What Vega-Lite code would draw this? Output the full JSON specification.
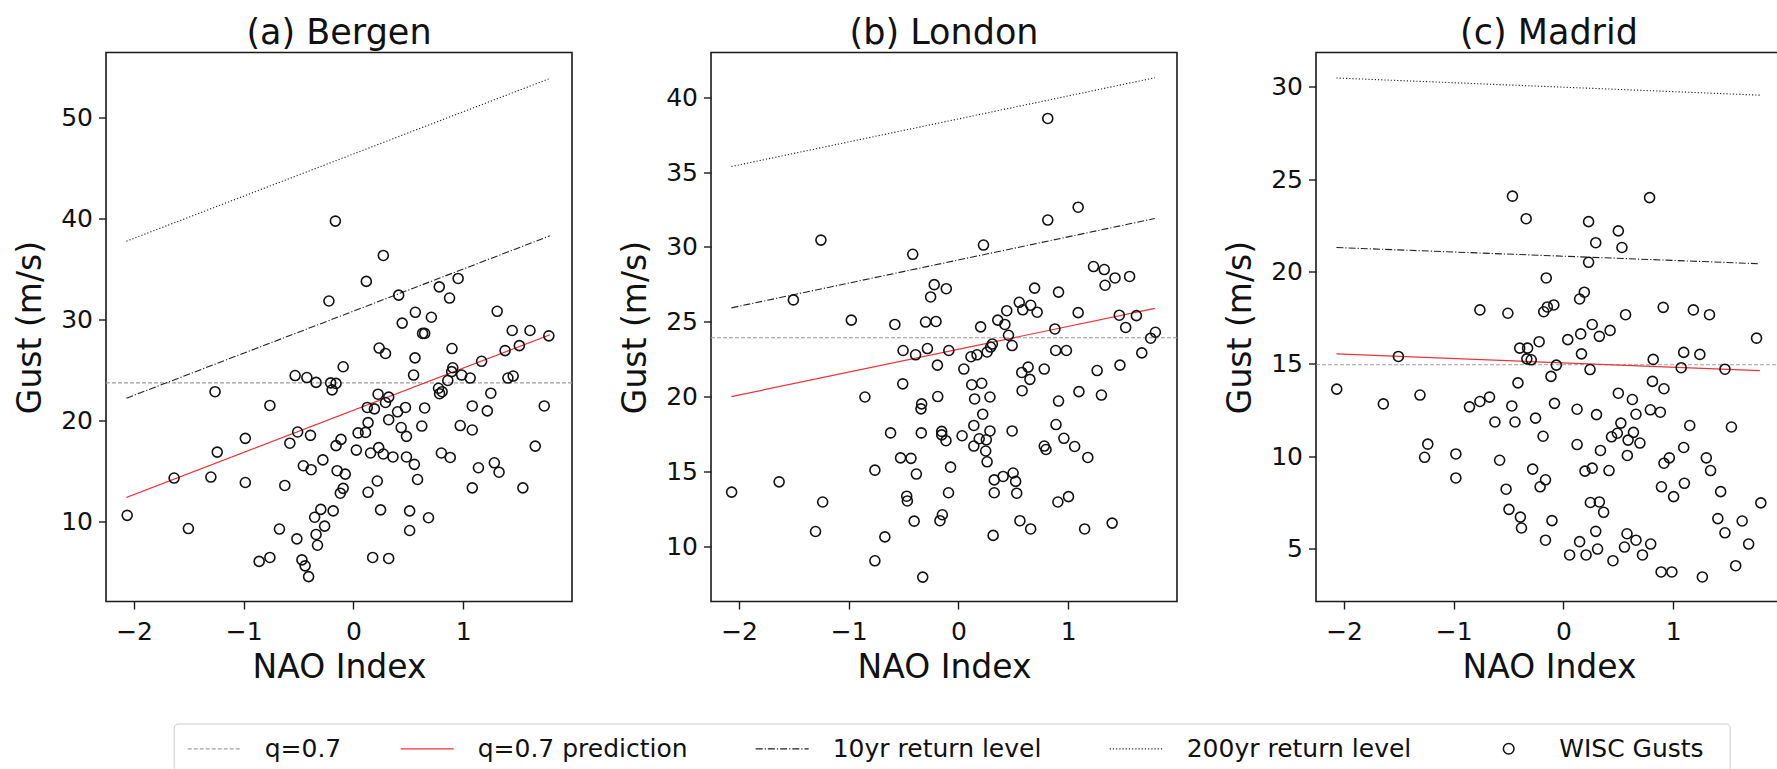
{
  "$schema": "https://vega.github.io/schema/vega-lite/v6.json",
  "background": "white",
  "padding": {"left": 13, "top": 14.5, "right": 0, "bottom": 0},
  "config": {
    "font": "DejaVu Sans",
    "view": {"stroke": "#1a1a1a", "strokeWidth": 1.6},
    "axis": {"grid": false, "domain": false, "tickColor": "#1a1a1a", "tickSize": 7.5, "tickWidth": 1.4, "labelFontSize": 25, "labelColor": "#111111", "labelFont": "DejaVu Sans", "labelOverlap": false, "titleFontSize": 33, "titleFontWeight": "normal", "titleColor": "#111111", "titleFont": "DejaVu Sans"},
    "axisY": {"titlePadding": 13, "labelPadding": 6},
    "axisX": {"titlePadding": 7, "labelPadding": 10, "format": "d"},
    "legend": {"labelFont": "DejaVu Sans", "labelFontSize": 25, "labelColor": "#111111", "labelLimit": 400},
    "title": {"fontSize": 35, "fontWeight": "normal", "font": "DejaVu Sans", "color": "#111111", "offset": 2}
  },
  "datasets": {
    "bergen": [
      {"nao":-2.063,"gust":10.58},{"nao":-1.635,"gust":14.27},{"nao":-1.505,"gust":9.27},{"nao":-1.3,"gust":14.37},{"nao":-1.262,"gust":22.82},{"nao":-1.242,"gust":16.84},{"nao":-0.986,"gust":18.2},{"nao":-0.986,"gust":13.83},{"nao":-0.86,"gust":6.02},{"nao":-0.762,"gust":21.46},{"nao":-0.762,"gust":6.41},{"nao":-0.675,"gust":9.22},{"nao":-0.626,"gust":13.54},{"nao":-0.58,"gust":17.72},{"nao":-0.532,"gust":24.42},{"nao":-0.516,"gust":8.25},{"nao":-0.509,"gust":18.83},{"nao":-0.457,"gust":15.49},{"nao":-0.47,"gust":6.17},{"nao":-0.441,"gust":5.58},{"nao":-0.425,"gust":24.22},{"nao":-0.409,"gust":4.51},{"nao":-0.392,"gust":18.5},{"nao":-0.386,"gust":15.1},{"nao":-0.341,"gust":23.74},{"nao":-0.354,"gust":10.39},{"nao":-0.298,"gust":11.17},{"nao":-0.341,"gust":8.69},{"nao":-0.328,"gust":7.62},{"nao":-0.279,"gust":16.07},{"nao":-0.263,"gust":9.51},{"nao":-0.224,"gust":31.8},{"nao":-0.208,"gust":23.69},{"nao":-0.195,"gust":23.0},{"nao":-0.159,"gust":23.64},{"nao":-0.165,"gust":39.71},{"nao":-0.185,"gust":11.02},{"nao":-0.159,"gust":17.48},{"nao":-0.149,"gust":15.0},{"nao":-0.114,"gust":18.1},{"nao":-0.094,"gust":25.29},{"nao":-0.12,"gust":12.77},{"nao":-0.094,"gust":13.25},{"nao":-0.075,"gust":14.66},{"nao":0.026,"gust":17.04},{"nao":0.042,"gust":18.74},{"nao":0.11,"gust":18.79},{"nao":0.117,"gust":33.74},{"nao":0.133,"gust":12.86},{"nao":0.126,"gust":21.26},{"nao":0.133,"gust":19.76},{"nao":0.156,"gust":16.75},{"nao":0.191,"gust":21.12},{"nao":0.175,"gust":6.41},{"nao":0.217,"gust":13.98},{"nao":0.224,"gust":22.57},{"nao":0.234,"gust":27.14},{"nao":0.292,"gust":26.6},{"nao":0.23,"gust":17.28},{"nao":0.247,"gust":11.12},{"nao":0.272,"gust":36.31},{"nao":0.272,"gust":16.65},{"nao":0.292,"gust":21.75},{"nao":0.321,"gust":22.28},{"nao":0.321,"gust":20.05},{"nao":0.321,"gust":6.31},{"nao":0.36,"gust":16.36},{"nao":0.402,"gust":20.83},{"nao":0.412,"gust":32.38},{"nao":0.435,"gust":19.27},{"nao":0.444,"gust":29.61},{"nao":0.474,"gust":21.26},{"nao":0.483,"gust":18.4},{"nao":0.483,"gust":16.36},{"nao":0.512,"gust":11.02},{"nao":0.512,"gust":9.08},{"nao":0.548,"gust":24.47},{"nao":0.555,"gust":15.63},{"nao":0.564,"gust":30.68},{"nao":0.561,"gust":26.17},{"nao":0.584,"gust":14.13},{"nao":0.623,"gust":19.42},{"nao":0.63,"gust":28.59},{"nao":0.649,"gust":28.59},{"nao":0.649,"gust":21.21},{"nao":0.684,"gust":10.34},{"nao":0.71,"gust":30.19},{"nao":0.782,"gust":33.2},{"nao":0.775,"gust":23.16},{"nao":0.785,"gust":22.62},{"nao":0.801,"gust":16.75},{"nao":0.808,"gust":22.82},{"nao":0.876,"gust":32.09},{"nao":0.86,"gust":23.93},{"nao":0.882,"gust":16.31},{"nao":0.898,"gust":27.09},{"nao":0.895,"gust":24.81},{"nao":0.905,"gust":25.19},{"nao":0.954,"gust":34.03},{"nao":0.986,"gust":24.47},{"nao":0.973,"gust":19.47},{"nao":1.064,"gust":24.17},{"nao":1.083,"gust":21.41},{"nao":1.083,"gust":19.03},{"nao":1.083,"gust":13.3},{"nao":1.139,"gust":15.29},{"nao":1.168,"gust":25.83},{"nao":1.22,"gust":20.92},{"nao":1.252,"gust":22.67},{"nao":1.284,"gust":15.78},{"nao":1.327,"gust":14.85},{"nao":1.31,"gust":30.78},{"nao":1.382,"gust":26.89},{"nao":1.408,"gust":24.17},{"nao":1.456,"gust":24.37},{"nao":1.447,"gust":28.88},{"nao":1.512,"gust":27.38},{"nao":1.544,"gust":13.3},{"nao":1.609,"gust":28.88},{"nao":1.657,"gust":17.43},{"nao":1.739,"gust":21.41},{"nao":1.781,"gust":28.35}
    ],
    "london": [
      {"nao":-2.068,"gust":13.61},{"nao":-1.635,"gust":14.3},{"nao":-1.505,"gust":26.46},{"nao":-1.303,"gust":10.98},{"nao":-1.254,"gust":30.46},{"nao":-1.238,"gust":12.95},{"nao":-0.977,"gust":25.11},{"nao":-0.853,"gust":19.97},{"nao":-0.762,"gust":15.08},{"nao":-0.762,"gust":9.02},{"nao":-0.671,"gust":10.62},{"nao":-0.619,"gust":17.57},{"nao":-0.58,"gust":24.82},{"nao":-0.505,"gust":23.08},{"nao":-0.508,"gust":20.85},{"nao":-0.528,"gust":15.9},{"nao":-0.472,"gust":13.34},{"nao":-0.466,"gust":13.02},{"nao":-0.433,"gust":15.87},{"nao":-0.417,"gust":29.51},{"nao":-0.404,"gust":11.67},{"nao":-0.391,"gust":22.79},{"nao":-0.384,"gust":14.82},{"nao":-0.339,"gust":17.57},{"nao":-0.336,"gust":19.51},{"nao":-0.342,"gust":19.18},{"nao":-0.326,"gust":7.93},{"nao":-0.3,"gust":24.98},{"nao":-0.283,"gust":23.21},{"nao":-0.254,"gust":26.66},{"nao":-0.221,"gust":27.48},{"nao":-0.205,"gust":25.02},{"nao":-0.192,"gust":22.1},{"nao":-0.189,"gust":20.0},{"nao":-0.169,"gust":11.7},{"nao":-0.153,"gust":17.67},{"nao":-0.153,"gust":17.44},{"nao":-0.147,"gust":12.1},{"nao":-0.111,"gust":27.21},{"nao":-0.114,"gust":17.05},{"nao":-0.091,"gust":13.57},{"nao":-0.088,"gust":23.08},{"nao":-0.072,"gust":15.28},{"nao":0.033,"gust":17.38},{"nao":0.049,"gust":21.84},{"nao":0.114,"gust":22.66},{"nao":0.121,"gust":20.79},{"nao":0.14,"gust":18.07},{"nao":0.147,"gust":19.84},{"nao":0.14,"gust":16.69},{"nao":0.169,"gust":22.79},{"nao":0.202,"gust":24.66},{"nao":0.212,"gust":20.89},{"nao":0.189,"gust":17.18},{"nao":0.228,"gust":30.13},{"nao":0.221,"gust":18.82},{"nao":0.248,"gust":16.36},{"nao":0.254,"gust":17.11},{"nao":0.261,"gust":15.64},{"nao":0.261,"gust":22.98},{"nao":0.287,"gust":19.97},{"nao":0.287,"gust":17.7},{"nao":0.293,"gust":23.31},{"nao":0.309,"gust":23.51},{"nao":0.326,"gust":13.57},{"nao":0.326,"gust":14.43},{"nao":0.316,"gust":10.72},{"nao":0.358,"gust":25.11},{"nao":0.407,"gust":14.66},{"nao":0.423,"gust":24.82},{"nao":0.44,"gust":25.74},{"nao":0.456,"gust":24.1},{"nao":0.489,"gust":23.41},{"nao":0.489,"gust":17.7},{"nao":0.498,"gust":14.89},{"nao":0.521,"gust":14.33},{"nao":0.531,"gust":13.54},{"nao":0.554,"gust":26.3},{"nao":0.577,"gust":21.61},{"nao":0.56,"gust":11.7},{"nao":0.58,"gust":20.39},{"nao":0.586,"gust":25.8},{"nao":0.635,"gust":21.97},{"nao":0.651,"gust":21.15},{"nao":0.658,"gust":26.1},{"nao":0.658,"gust":11.15},{"nao":0.694,"gust":27.25},{"nao":0.717,"gust":25.64},{"nao":0.782,"gust":21.84},{"nao":0.814,"gust":38.59},{"nao":0.814,"gust":31.8},{"nao":0.782,"gust":16.69},{"nao":0.798,"gust":16.46},{"nao":0.879,"gust":24.52},{"nao":0.886,"gust":23.08},{"nao":0.889,"gust":18.13},{"nao":0.906,"gust":12.95},{"nao":0.912,"gust":26.98},{"nao":0.912,"gust":19.7},{"nao":0.961,"gust":17.21},{"nao":0.984,"gust":23.08},{"nao":1.003,"gust":13.31},{"nao":1.059,"gust":16.66},{"nao":1.091,"gust":32.66},{"nao":1.091,"gust":25.61},{"nao":1.098,"gust":20.33},{"nao":1.15,"gust":11.15},{"nao":1.179,"gust":15.93},{"nao":1.231,"gust":28.69},{"nao":1.264,"gust":21.74},{"nao":1.303,"gust":20.1},{"nao":1.329,"gust":28.49},{"nao":1.336,"gust":27.44},{"nao":1.401,"gust":11.54},{"nao":1.427,"gust":27.93},{"nao":1.466,"gust":25.44},{"nao":1.472,"gust":22.1},{"nao":1.524,"gust":24.62},{"nao":1.56,"gust":28.03},{"nao":1.622,"gust":25.41},{"nao":1.671,"gust":22.92},{"nao":1.752,"gust":23.9},{"nao":1.795,"gust":24.3}
    ],
    "madrid": [
      {"nao":-2.067,"gust":13.63},{"nao":-1.642,"gust":12.83},{"nao":-1.505,"gust":15.4},{"nao":-1.308,"gust":13.31},{"nao":-1.237,"gust":10.65},{"nao":-1.266,"gust":9.94},{"nao":-0.981,"gust":10.12},{"nao":-0.981,"gust":8.82},{"nao":-0.857,"gust":12.67},{"nao":-0.762,"gust":17.92},{"nao":-0.762,"gust":12.96},{"nao":-0.674,"gust":13.2},{"nao":-0.625,"gust":11.85},{"nao":-0.582,"gust":9.78},{"nao":-0.523,"gust":8.21},{"nao":-0.507,"gust":17.74},{"nao":-0.497,"gust":7.12},{"nao":-0.471,"gust":12.72},{"nao":-0.465,"gust":24.08},{"nao":-0.442,"gust":11.85},{"nao":-0.415,"gust":13.97},{"nao":-0.399,"gust":15.85},{"nao":-0.393,"gust":6.7},{"nao":-0.383,"gust":6.11},{"nao":-0.34,"gust":22.86},{"nao":-0.334,"gust":15.27},{"nao":-0.327,"gust":15.85},{"nao":-0.294,"gust":15.22},{"nao":-0.281,"gust":9.3},{"nao":-0.255,"gust":12.06},{"nao":-0.222,"gust":16.2},{"nao":-0.213,"gust":8.34},{"nao":-0.186,"gust":11.08},{"nao":-0.18,"gust":17.82},{"nao":-0.157,"gust":19.65},{"nao":-0.164,"gust":8.72},{"nao":-0.164,"gust":5.45},{"nao":-0.147,"gust":18.08},{"nao":-0.114,"gust":14.32},{"nao":-0.105,"gust":6.51},{"nao":-0.088,"gust":18.19},{"nao":-0.082,"gust":12.86},{"nao":-0.065,"gust":14.93},{"nao":0.039,"gust":16.31},{"nao":0.056,"gust":4.65},{"nao":0.124,"gust":12.54},{"nao":0.124,"gust":10.63},{"nao":0.147,"gust":18.51},{"nao":0.147,"gust":5.37},{"nao":0.157,"gust":16.62},{"nao":0.164,"gust":15.54},{"nao":0.19,"gust":18.88},{"nao":0.196,"gust":9.19},{"nao":0.206,"gust":4.65},{"nao":0.229,"gust":22.7},{"nao":0.229,"gust":20.5},{"nao":0.242,"gust":14.69},{"nao":0.262,"gust":9.35},{"nao":0.262,"gust":17.13},{"nao":0.245,"gust":7.49},{"nao":0.294,"gust":21.56},{"nao":0.301,"gust":12.25},{"nao":0.294,"gust":5.93},{"nao":0.311,"gust":4.97},{"nao":0.327,"gust":16.49},{"nao":0.327,"gust":7.52},{"nao":0.337,"gust":10.31},{"nao":0.366,"gust":6.96},{"nao":0.415,"gust":9.22},{"nao":0.425,"gust":16.81},{"nao":0.438,"gust":11.05},{"nao":0.451,"gust":4.34},{"nao":0.491,"gust":11.24},{"nao":0.5,"gust":22.2},{"nao":0.5,"gust":13.41},{"nao":0.523,"gust":11.79},{"nao":0.533,"gust":21.3},{"nao":0.556,"gust":5.08},{"nao":0.566,"gust":17.66},{"nao":0.579,"gust":5.8},{"nao":0.582,"gust":10.04},{"nao":0.589,"gust":10.87},{"nao":0.628,"gust":13.07},{"nao":0.638,"gust":11.29},{"nao":0.661,"gust":12.27},{"nao":0.661,"gust":5.45},{"nao":0.697,"gust":10.71},{"nao":0.72,"gust":4.65},{"nao":0.785,"gust":24.0},{"nao":0.792,"gust":12.51},{"nao":0.795,"gust":5.24},{"nao":0.811,"gust":14.05},{"nao":0.818,"gust":15.24},{"nao":0.883,"gust":12.38},{"nao":0.893,"gust":8.34},{"nao":0.909,"gust":18.06},{"nao":0.916,"gust":13.65},{"nao":0.89,"gust":3.73},{"nao":0.916,"gust":9.62},{"nao":0.965,"gust":9.91},{"nao":0.988,"gust":3.73},{"nao":1.004,"gust":7.81},{"nao":1.073,"gust":14.79},{"nao":1.096,"gust":10.47},{"nao":1.096,"gust":15.62},{"nao":1.102,"gust":8.53},{"nao":1.151,"gust":11.66},{"nao":1.184,"gust":17.92},{"nao":1.243,"gust":15.51},{"nao":1.266,"gust":3.46},{"nao":1.302,"gust":9.91},{"nao":1.331,"gust":17.66},{"nao":1.341,"gust":9.22},{"nao":1.407,"gust":6.62},{"nao":1.433,"gust":8.08},{"nao":1.472,"gust":5.85},{"nao":1.472,"gust":14.71},{"nao":1.531,"gust":11.58},{"nao":1.57,"gust":4.07},{"nao":1.629,"gust":6.49},{"nao":1.688,"gust":5.24},{"nao":1.76,"gust":16.39},{"nao":1.799,"gust":7.47}
    ],
    "bergenFit": [
      {"series":"q=0.7","nao":null,"gust":23.69},
      {"series":"pred","nao":-2.07,"gust":12.35},{"series":"pred","nao":1.79,"gust":28.45},
      {"series":"rl10","nao":-2.07,"gust":22.18},{"series":"rl10","nao":1.79,"gust":38.25},
      {"series":"rl200","nao":-2.07,"gust":37.72},{"series":"rl200","nao":1.79,"gust":53.83}
    ],
    "londonFit": [
      {"series":"q=0.7","nao":null,"gust":23.93},
      {"series":"pred","nao":-2.07,"gust":20.0},{"series":"pred","nao":1.79,"gust":25.9},
      {"series":"rl10","nao":-2.07,"gust":25.93},{"series":"rl10","nao":1.79,"gust":31.9},
      {"series":"rl200","nao":-2.07,"gust":35.38},{"series":"rl200","nao":1.79,"gust":41.31}
    ],
    "madridFit": [
      {"series":"q=0.7","nao":null,"gust":14.95},
      {"series":"pred","nao":-2.07,"gust":15.54},{"series":"pred","nao":1.79,"gust":14.63},
      {"series":"rl10","nao":-2.07,"gust":21.3},{"series":"rl10","nao":1.79,"gust":20.42},
      {"series":"rl200","nao":-2.07,"gust":30.48},{"series":"rl200","nao":1.79,"gust":29.55}
    ]
  },
  "spacing": 139,
  "bounds": "flush",
  "resolve": {"scale": {"color": "independent", "strokeDash": "independent", "opacity": "independent"}, "legend": {"color": "independent", "strokeDash": "independent", "opacity": "independent"}},
  "hconcat": [
    {
      "width": 466, "height": 549,
      "title": "(a) Bergen",
      "resolve": {"scale": {"strokeDash": "independent"}, "legend": {"strokeDash": "independent"}},
      "layer": [
        {"data": {"name": "bergenFit"}, "transform": [{"filter": "datum.series === 'q=0.7'"}],
         "mark": {"type": "rule", "color": "#a0a0a0", "strokeWidth": 1.1},
         "encoding": {
           "y": {"field": "gust", "type": "quantitative", "title": "Gust (m/s)", "scale": {"domain": [2.05, 56.4], "nice": false, "zero": false}},
           "strokeDash": {"datum": "q=0.7", "type": "nominal", "scale": {"domain": ["q=0.7"], "range": [[4, 2]]},
             "legend": {"title": null, "orient": "none", "legendX": 80.7, "legendY": 668.8, "padding": 0,
               "symbolType": "stroke", "symbolSize": 2809, "symbolStrokeWidth": 1.2, "symbolStrokeColor": "#a0a0a0", "symbolOpacity": 1,
               "labelOffset": 23}}
         }},
        {"data": {"name": "bergenFit"}, "transform": [{"filter": "datum.series === 'rl200'"}],
         "mark": {"type": "line", "color": "#222222", "strokeWidth": 1.1},
         "encoding": {"x": {"field": "nao", "type": "quantitative", "title": "NAO Index", "scale": {"domain": [-2.256, 1.992], "nice": false, "zero": false}},
                      "y": {"field": "gust", "type": "quantitative", "title": "Gust (m/s)", "scale": {"domain": [2.05, 56.4], "nice": false, "zero": false}},
                      "strokeDash": {"datum": "200yr return level", "type": "nominal", "scale": {"domain": ["200yr return level"], "range": [[1.2, 2]]},
                        "legend": {"title": null, "orient": "none", "legendX": 1002.7, "legendY": 668.8, "padding": 0,
                          "symbolType": "stroke", "symbolSize": 2809, "symbolStrokeWidth": 1.2, "symbolStrokeColor": "#222222", "symbolOpacity": 1,
                          "labelOffset": 23}}}},
        {"data": {"name": "bergenFit"}, "transform": [{"filter": "datum.series === 'rl10'"}],
         "mark": {"type": "line", "color": "#222222", "strokeWidth": 1.1},
         "encoding": {"x": {"field": "nao", "type": "quantitative", "title": "NAO Index", "scale": {"domain": [-2.256, 1.992], "nice": false, "zero": false}},
                      "y": {"field": "gust", "type": "quantitative", "title": "Gust (m/s)", "scale": {"domain": [2.05, 56.4], "nice": false, "zero": false}},
                      "strokeDash": {"datum": "10yr return level", "type": "nominal", "scale": {"domain": ["10yr return level"], "range": [[7, 2, 1.2, 2]]},
                        "legend": {"title": null, "orient": "none", "legendX": 648.7, "legendY": 668.8, "padding": 0,
                          "symbolType": "stroke", "symbolSize": 2809, "symbolStrokeWidth": 1.2, "symbolStrokeColor": "#222222", "symbolOpacity": 1,
                          "labelOffset": 23}}}},
        {"data": {"name": "bergenFit"}, "transform": [{"filter": "datum.series === 'pred'"}],
         "mark": {"type": "line", "color": "#e8333c", "strokeWidth": 1.2},
         "encoding": {"x": {"field": "nao", "type": "quantitative", "title": "NAO Index", "scale": {"domain": [-2.256, 1.992], "nice": false, "zero": false}},
                      "y": {"field": "gust", "type": "quantitative", "title": "Gust (m/s)", "scale": {"domain": [2.05, 56.4], "nice": false, "zero": false}},
                      "strokeDash": {"datum": "q=0.7 prediction", "type": "nominal", "scale": {"domain": ["q=0.7 prediction"], "range": [[1, 0]]},
                        "legend": {"title": null, "orient": "none", "legendX": 293.7, "legendY": 668.8, "padding": 0,
                          "symbolType": "stroke", "symbolSize": 2809, "symbolStrokeWidth": 1.3, "symbolStrokeColor": "#e8333c", "symbolOpacity": 1,
                          "labelOffset": 23}}}},
        {"data": {"name": "bergen"},
         "mark": {"type": "point", "filled": false, "size": 100, "strokeWidth": 1.6},
         "encoding": {
           "x": {"field": "nao", "type": "quantitative", "title": "NAO Index", "scale": {"domain": [-2.256, 1.992], "nice": false, "zero": false}, "axis": {"values": [-2, -1, 0, 1]}},
           "y": {"field": "gust", "type": "quantitative", "title": "Gust (m/s)", "scale": {"domain": [2.05, 56.4], "nice": false, "zero": false}, "axis": {"values": [10, 20, 30, 40, 50]}},
           "opacity": {"datum": "WISC Gusts", "type": "ordinal", "scale": {"domain": ["WISC Gusts"], "range": [1]},
             "legend": {"title": null, "orient": "none", "legendX": 1375.2, "legendY": 668.8, "padding": 0,
               "symbolType": "M-0.2,0A0.2,0.2,0,1,1,0.2,0A0.2,0.2,0,1,1,-0.2,0Z", "symbolSize": 2809, "symbolStrokeWidth": 1.5,
               "symbolStrokeColor": "#111111", "symbolFillColor": "transparent", "symbolOpacity": 1,
               "labelOffset": 23}},
           "color": {"datum": "WISC Gusts", "type": "nominal",
             "scale": {"domain": ["q=0.7", "q=0.7 prediction", "10yr return level", "200yr return level", "WISC Gusts"], "range": ["transparent", "transparent", "transparent", "transparent", "#111111"]},
             "legend": {
               "title": null, "orient": "none", "legendX": 67.7, "legendY": 671,
               "direction": "horizontal", "columns": 5,
               "symbolType": "square", "symbolSize": 625, "symbolOffset": 0, "symbolOpacity": 0,
               "labelExpr": "''", "labelOffset": 0,
               "columnPadding": 350.25, "padding": 10,
               "strokeColor": "#cccccc", "cornerRadius": 4
             }}
         }}
      ]
    },
    {
      "width": 466, "height": 549,
      "title": "(b) London",
      "layer": [
        {"data": {"name": "londonFit"}, "transform": [{"filter": "datum.series === 'q=0.7'"}],
         "mark": {"type": "rule", "color": "#a0a0a0", "strokeWidth": 1.1, "strokeDash": [4, 2]},
         "encoding": {"y": {"field": "gust", "type": "quantitative", "title": "Gust (m/s)", "scale": {"domain": [6.3, 43.0], "nice": false, "zero": false}}}},
        {"data": {"name": "londonFit"}, "transform": [{"filter": "datum.series === 'rl200'"}],
         "mark": {"type": "line", "color": "#222222", "strokeWidth": 1.1, "strokeDash": [1.2, 2]},
         "encoding": {"x": {"field": "nao", "type": "quantitative", "title": "NAO Index", "scale": {"domain": [-2.256, 1.992], "nice": false, "zero": false}},
                      "y": {"field": "gust", "type": "quantitative", "title": "Gust (m/s)", "scale": {"domain": [6.3, 43.0], "nice": false, "zero": false}}}},
        {"data": {"name": "londonFit"}, "transform": [{"filter": "datum.series === 'rl10'"}],
         "mark": {"type": "line", "color": "#222222", "strokeWidth": 1.1, "strokeDash": [7, 2, 1.2, 2]},
         "encoding": {"x": {"field": "nao", "type": "quantitative", "title": "NAO Index", "scale": {"domain": [-2.256, 1.992], "nice": false, "zero": false}},
                      "y": {"field": "gust", "type": "quantitative", "title": "Gust (m/s)", "scale": {"domain": [6.3, 43.0], "nice": false, "zero": false}}}},
        {"data": {"name": "londonFit"}, "transform": [{"filter": "datum.series === 'pred'"}],
         "mark": {"type": "line", "color": "#e8333c", "strokeWidth": 1.2},
         "encoding": {"x": {"field": "nao", "type": "quantitative", "title": "NAO Index", "scale": {"domain": [-2.256, 1.992], "nice": false, "zero": false}},
                      "y": {"field": "gust", "type": "quantitative", "title": "Gust (m/s)", "scale": {"domain": [6.3, 43.0], "nice": false, "zero": false}}}},
        {"data": {"name": "london"},
         "mark": {"type": "point", "filled": false, "opacity": 1, "size": 100, "strokeWidth": 1.6, "color": "#111111"},
         "encoding": {
           "x": {"field": "nao", "type": "quantitative", "title": "NAO Index", "scale": {"domain": [-2.256, 1.992], "nice": false, "zero": false}, "axis": {"values": [-2, -1, 0, 1]}},
           "y": {"field": "gust", "type": "quantitative", "title": "Gust (m/s)", "scale": {"domain": [6.3, 43.0], "nice": false, "zero": false}, "axis": {"values": [10, 15, 20, 25, 30, 35, 40]}}
         }}
      ]
    },
    {
      "width": 466, "height": 549,
      "title": "(c) Madrid",
      "layer": [
        {"data": {"name": "madridFit"}, "transform": [{"filter": "datum.series === 'q=0.7'"}],
         "mark": {"type": "rule", "color": "#a0a0a0", "strokeWidth": 1.1, "strokeDash": [4, 2]},
         "encoding": {"y": {"field": "gust", "type": "quantitative", "title": "Gust (m/s)", "scale": {"domain": [2.13, 31.86], "nice": false, "zero": false}}}},
        {"data": {"name": "madridFit"}, "transform": [{"filter": "datum.series === 'rl200'"}],
         "mark": {"type": "line", "color": "#222222", "strokeWidth": 1.1, "strokeDash": [1.2, 2]},
         "encoding": {"x": {"field": "nao", "type": "quantitative", "title": "NAO Index", "scale": {"domain": [-2.256, 1.992], "nice": false, "zero": false}},
                      "y": {"field": "gust", "type": "quantitative", "title": "Gust (m/s)", "scale": {"domain": [2.13, 31.86], "nice": false, "zero": false}}}},
        {"data": {"name": "madridFit"}, "transform": [{"filter": "datum.series === 'rl10'"}],
         "mark": {"type": "line", "color": "#222222", "strokeWidth": 1.1, "strokeDash": [7, 2, 1.2, 2]},
         "encoding": {"x": {"field": "nao", "type": "quantitative", "title": "NAO Index", "scale": {"domain": [-2.256, 1.992], "nice": false, "zero": false}},
                      "y": {"field": "gust", "type": "quantitative", "title": "Gust (m/s)", "scale": {"domain": [2.13, 31.86], "nice": false, "zero": false}}}},
        {"data": {"name": "madridFit"}, "transform": [{"filter": "datum.series === 'pred'"}],
         "mark": {"type": "line", "color": "#e8333c", "strokeWidth": 1.2},
         "encoding": {"x": {"field": "nao", "type": "quantitative", "title": "NAO Index", "scale": {"domain": [-2.256, 1.992], "nice": false, "zero": false}},
                      "y": {"field": "gust", "type": "quantitative", "title": "Gust (m/s)", "scale": {"domain": [2.13, 31.86], "nice": false, "zero": false}}}},
        {"data": {"name": "madrid"},
         "mark": {"type": "point", "filled": false, "opacity": 1, "size": 100, "strokeWidth": 1.6, "color": "#111111"},
         "encoding": {
           "x": {"field": "nao", "type": "quantitative", "title": "NAO Index", "scale": {"domain": [-2.256, 1.992], "nice": false, "zero": false}, "axis": {"values": [-2, -1, 0, 1]}},
           "y": {"field": "gust", "type": "quantitative", "title": "Gust (m/s)", "scale": {"domain": [2.13, 31.86], "nice": false, "zero": false}, "axis": {"values": [5, 10, 15, 20, 25, 30]}}
         }}
      ]
    }
  ]
}
